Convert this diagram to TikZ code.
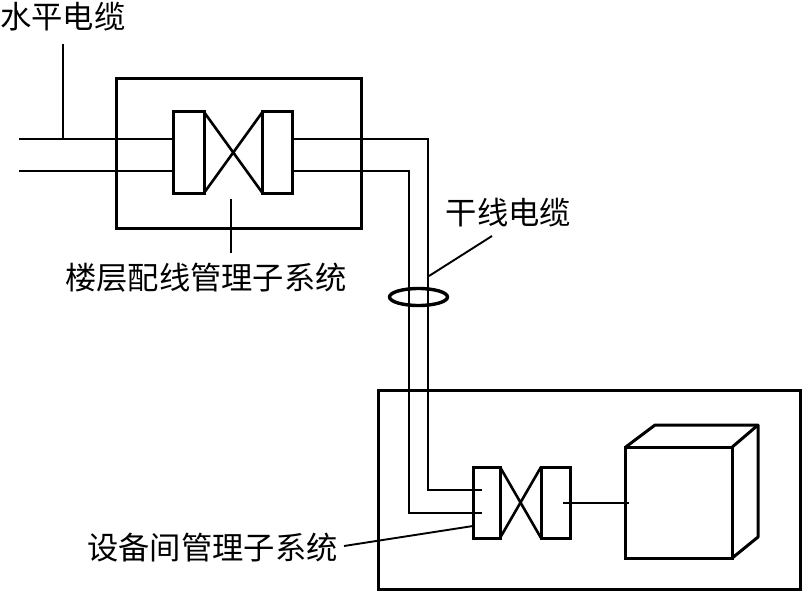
\documentclass[tikz,border=0pt]{standalone}
\usepackage{fontspec}
\setmainfont{Noto Sans CJK SC}
\begin{document}
\begin{tikzpicture}[x=1pt,y=-1pt,
  heavy/.style={draw=black,line width=3pt,inner sep=0pt,outer sep=0pt,fill=none},
  thin wire/.style={draw=black,line width=1.9pt,line join=miter},
  thick wire/.style={draw=black,line width=2.6pt,line join=round},
  lbl/.style={inner sep=0pt,font=\fontsize{31.3}{31.3}\selectfont,text=black,anchor=center}]
\useasboundingbox[fill=white] (0,0) rectangle (802,591);
% enclosures
\node[heavy,minimum width=245pt,minimum height=149pt] (floorbox) at (239,153.5) {};
\node[heavy,minimum width=422pt,minimum height=199pt] (roombox) at (589,489.5) {};
% floor patch panels
\node[heavy,minimum width=31pt,minimum height=81pt] (fl) at (188.5,152.5) {};
\node[heavy,minimum width=30pt,minimum height=81pt] (fr) at (277.5,152.5) {};
\draw[thick wire] (fl.north east) -- (fr.south west);
\draw[thick wire] (fl.south east) -- (fr.north west);
% room patch panels
\node[heavy,minimum width=27pt,minimum height=71pt] (rl) at (486.5,502.5) {};
\node[heavy,minimum width=29pt,minimum height=71pt] (rr) at (555.5,502.5) {};
\draw[thick wire] (rl.north east) -- (rr.south west);
\draw[thick wire] (rl.south east) -- (rr.north west);
% cabinet
\node[heavy,minimum width=106.5pt,minimum height=111pt] (cab) at (679,502.5) {};
\coordinate (tbl) at (cab.north west);
\coordinate (tfr) at (cab.north east);
\coordinate (brr) at (cab.south east);
\coordinate (bk1) at (655,425);
\coordinate (bk2) at (758,425);
\coordinate (bk3) at (758,537);
\draw[thick wire,line width=3pt] (tbl) -- (bk1) -- (bk2) -- (bk3) -- (brr);
\draw[thick wire,line width=3pt] (tfr) -- (bk2);
% free ends and bends
\coordinate (wa) at (19,139);
\coordinate (wb) at (19,171);
\coordinate (fla) at (fl.west |- wa);
\coordinate (flb) at (fl.west |- wb);
\coordinate (fra) at (fr.east |- wa);
\coordinate (frb) at (fr.east |- wb);
\coordinate (ra) at (482,490);
\coordinate (rb) at (482,513);
\coordinate (ba) at (428,139);
\coordinate (bb) at (409,171);
\coordinate (ca) at (428,490);
\coordinate (cb) at (409,513);
\draw[thin wire] (wa) -- (fla);
\draw[thin wire] (wb) -- (flb);
\draw[thin wire] (fra) -- (ba) -- (ca) -- (ra);
\draw[thin wire] (frb) -- (bb) -- (cb) -- (rb);
\coordinate (rrc) at (563,503);
\coordinate (cabc) at (629,503);
\draw[thin wire] (rrc) -- (cabc);
% cable ring
\draw[thick wire,line width=3.4pt] (418.5,297) ellipse [x radius=29pt,y radius=8.5pt];
% labels
\node[lbl,anchor=west] (t1) at (0,16.5) {水平电缆};
\node[lbl] (t2) at (206,278) {楼层配线管理子系统};
\node[lbl] (t3) at (508.5,212.5) {干线电缆};
\node[lbl] (t4) at (212.5,548) {设备间管理子系统};
% leaders
\coordinate (l1a) at (63,44);
\coordinate (l1b) at (63,139);
\draw[thin wire] (l1a) -- (l1b);
\coordinate (l2a) at (231,199);
\coordinate (l2b) at (231,253);
\draw[thin wire] (l2a) -- (l2b);
\coordinate (l3a) at (429,276);
\coordinate (l3b) at (492,236);
\draw[thin wire] (l3a) -- (l3b);
\coordinate (l4a) at (344,546);
\coordinate (l4b) at (473,526);
\draw[thin wire] (l4a) -- (l4b);
\end{tikzpicture}
\end{document}
